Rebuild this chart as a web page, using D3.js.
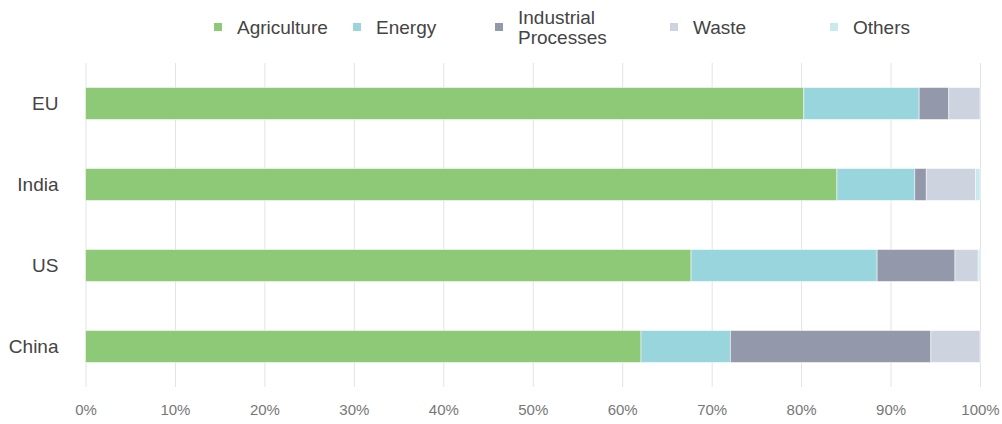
<!DOCTYPE html>
<html>
<head>
<meta charset="utf-8">
<script src="https://cdn.jsdelivr.net/npm/d3@7"></script>
<style>
  body { margin: 0; background: #fff; }
  text { font-family: "Liberation Sans", Arial, sans-serif; }
</style>
</head>
<body>
<div id="chart"></div>
<script>
// data (share of emissions, %)
var countries = ["EU", "India", "US", "China"];
var sectors = ["Agriculture", "Energy", "Industrial Processes", "Waste", "Others"];
var agriculture = [80.3, 84.0, 67.7, 62.1];
var energy = [12.9, 8.7, 20.8, 10.0];
var industrial = [3.3, 1.3, 8.7, 22.4];
var waste = [3.5, 5.5, 2.6, 5.5];
var others = [0.0, 0.5, 0.2, 0.0];
var xTicks = [0, 10, 20, 30, 40, 50, 60, 70, 80, 90, 100];

var colors = ["#8ec977", "#99d5dd", "#9399ab", "#cdd4df", "#c9e9ee"];

// build rows for the stack
var rows = countries.map(function(c, i) {
  return {country: c, "Agriculture": agriculture[i], "Energy": energy[i],
    "Industrial Processes": industrial[i], "Waste": waste[i], "Others": others[i]};
});

var W = 1002, H = 424;
var margin = {top: 63, right: 22, bottom: 37, left: 85.5};
var width = W - margin.left - margin.right,
    height = H - margin.top - margin.bottom;

var svg = d3.select("#chart")
  .append("svg")
    .attr("width", W)
    .attr("height", H)

var g = svg.append("g")
    .attr("transform", "translate(" + margin.left + "," + margin.top + ")")

var x = d3.scaleLinear()
  .domain([0, 100])
  .range([0, 894.5])

var y = d3.scaleBand()
  .domain(countries)
  .range([0, height])
  .paddingInner(0.605)
  .paddingOuter(0.3025)

// vertical grid + tick labels
var xAxis = g.append("g")
  .attr("transform", "translate(0," + height + ")")
  .call(d3.axisBottom(x).tickValues(xTicks).tickSize(height)
    .tickFormat(function(d) { return d + "%"; }))
xAxis.select(".domain").remove()
xAxis.selectAll(".tick line")
  .attr("y1", -height).attr("y2", 0)
  .attr("stroke", "#e3e3e3")
xAxis.selectAll(".tick text")
  .attr("y", 17)
  .attr("fill", "#777")
  .style("font-size", "15px")

// category labels
var yAxis = g.append("g")
  .call(d3.axisLeft(y).tickSize(0).tickPadding(27))
yAxis.select(".domain").remove()
yAxis.selectAll(".tick text")
  .attr("fill", "#444")
  .style("font-size", "19px")

// stacked bars
var stack = d3.stack().keys(sectors)(rows);

g.append("g")
  .selectAll("g")
  .data(stack)
  .enter()
  .append("g")
    .attr("fill", function(d, i) { return colors[i]; })
  .selectAll("rect")
  .data(function(d) { return d; })
  .enter()
  .append("rect")
    .attr("x", function(d) { return x(d[0]); })
    .attr("y", function(d) { return y(d.data.country); })
    .attr("width", function(d) { return x(d[1]) - x(d[0]); })
    .attr("height", y.bandwidth())
    .attr("stroke", "#fff")
    .attr("stroke-opacity", 0.5)
    .attr("stroke-width", 1)

// legend
var legendX = [214, 353, 495, 670, 830];
var legend = svg.append("g")
var items = legend.selectAll("g")
  .data(sectors)
  .enter()
  .append("g")
    .attr("transform", function(d, i) { return "translate(" + legendX[i] + ",27)"; })

items.append("rect")
  .attr("x", 0)
  .attr("y", -4)
  .attr("width", 8)
  .attr("height", 8)
  .attr("fill", function(d, i) { return colors[i]; })

items.append("text")
  .attr("x", 23)
  .attr("fill", "#444")
  .style("font-size", "19px")
  .each(function(d) {
    var t = d3.select(this);
    var lines = d === "Industrial Processes" ? ["Industrial", "Processes"] : [d];
    lines.forEach(function(l, j) {
      t.append("tspan")
        .attr("x", 23)
        .attr("y", (j - (lines.length - 1) / 2) * 20)
        .attr("dy", "0.35em")
        .text(l);
    });
  })
</script>
</body>
</html>
